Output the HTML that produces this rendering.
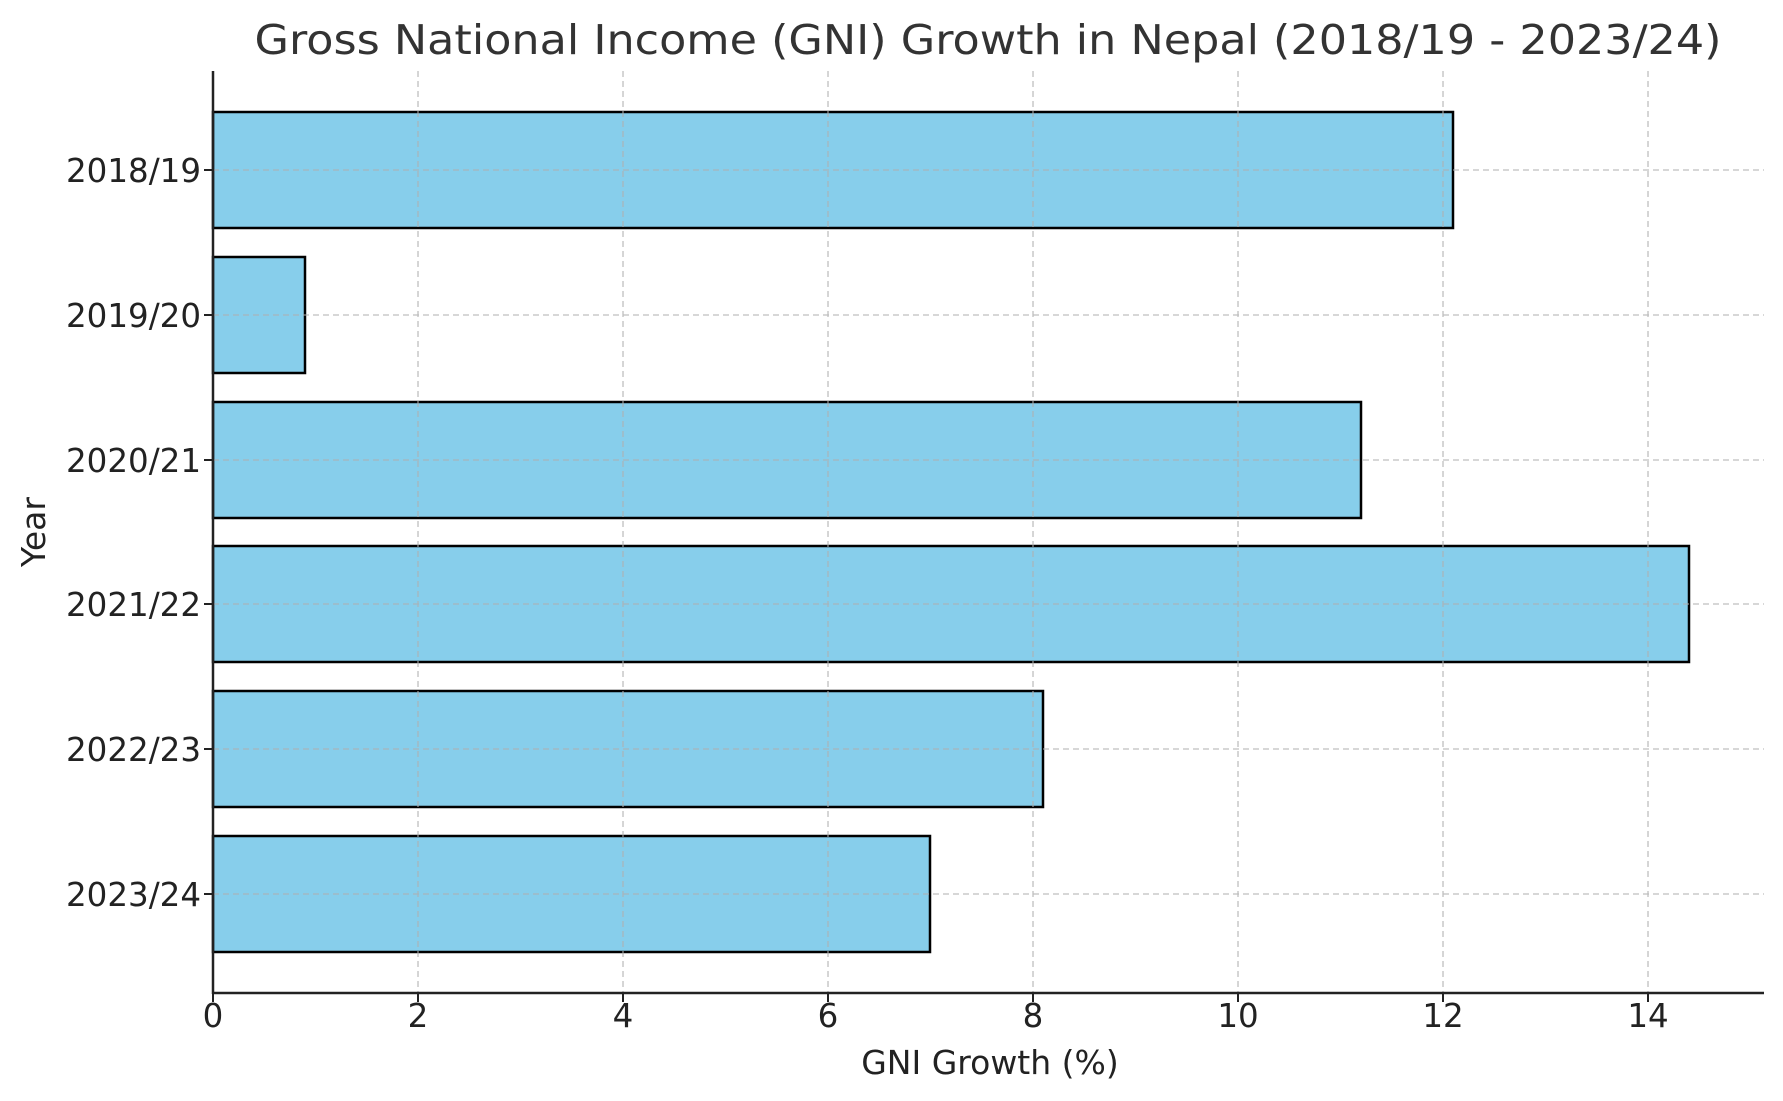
<!DOCTYPE html>
<html><head><meta charset="utf-8"><style>body{margin:0;background:#fff}svg{display:block}</style></head>
<body>
<svg width="1783" height="1101" viewBox="0 0 1783 1101" xmlns="http://www.w3.org/2000/svg" font-family="DejaVu Sans, Liberation Sans, sans-serif">
<rect width="1783" height="1101" fill="#fff"/>
<g fill="#87ceeb" stroke="#000" stroke-width="2.5">
<rect x="213" y="112" width="1240" height="116"/>
<rect x="213" y="257" width="92" height="116"/>
<rect x="213" y="402" width="1148" height="116"/>
<rect x="213" y="546" width="1476" height="116"/>
<rect x="213" y="691" width="830" height="116"/>
<rect x="213" y="836" width="717" height="116"/>
</g>
<g stroke="#b0b0b0" stroke-width="1.3" stroke-dasharray="6,4" opacity="0.8">
<line x1="418" y1="71" x2="418" y2="993"/><line x1="623" y1="71" x2="623" y2="993"/>
<line x1="828" y1="71" x2="828" y2="993"/><line x1="1033" y1="71" x2="1033" y2="993"/>
<line x1="1238" y1="71" x2="1238" y2="993"/><line x1="1443" y1="71" x2="1443" y2="993"/>
<line x1="1648" y1="71" x2="1648" y2="993"/>
<line x1="213" y1="170" x2="1764" y2="170"/><line x1="213" y1="315" x2="1764" y2="315"/>
<line x1="213" y1="460" x2="1764" y2="460"/><line x1="213" y1="604" x2="1764" y2="604"/>
<line x1="213" y1="749" x2="1764" y2="749"/><line x1="213" y1="894" x2="1764" y2="894"/>
</g>
<g stroke="#222" stroke-width="2.5">
<line x1="213" y1="71" x2="213" y2="994"/>
<line x1="212" y1="993" x2="1764" y2="993"/>
</g>
<g stroke="#222" stroke-width="2">
<line x1="213" y1="993" x2="213" y2="1002"/><line x1="418" y1="993" x2="418" y2="1002"/>
<line x1="623" y1="993" x2="623" y2="1002"/><line x1="828" y1="993" x2="828" y2="1002"/>
<line x1="1033" y1="993" x2="1033" y2="1002"/><line x1="1238" y1="993" x2="1238" y2="1002"/>
<line x1="1443" y1="993" x2="1443" y2="1002"/><line x1="1648" y1="993" x2="1648" y2="1002"/>
<line x1="204" y1="170" x2="213" y2="170"/><line x1="204" y1="315" x2="213" y2="315"/>
<line x1="204" y1="460" x2="213" y2="460"/><line x1="204" y1="604" x2="213" y2="604"/>
<line x1="204" y1="749" x2="213" y2="749"/><line x1="204" y1="894" x2="213" y2="894"/>
</g>
<g font-size="32.5" fill="#222" text-anchor="middle">
<text x="213" y="1027">0</text><text x="418" y="1027">2</text><text x="623" y="1027">4</text>
<text x="828" y="1027">6</text><text x="1033" y="1027">8</text><text x="1238" y="1027">10</text>
<text x="1443" y="1027">12</text><text x="1648" y="1027">14</text>
</g>
<g font-size="32.5" fill="#222" text-anchor="end">
<text x="201" y="182">2018/19</text><text x="201" y="327">2019/20</text><text x="201" y="472">2020/21</text>
<text x="201" y="616">2021/22</text><text x="201" y="761">2022/23</text><text x="201" y="906">2023/24</text>
</g>
<text x="990" y="1074" font-size="33" fill="#222" text-anchor="middle">GNI Growth (%)</text>
<text transform="translate(45,532) rotate(-90)" font-size="33" fill="#222" text-anchor="middle">Year</text>
<text x="988" y="54" font-size="41" fill="#333" text-anchor="middle" textLength="1467" lengthAdjust="spacingAndGlyphs">Gross National Income (GNI) Growth in Nepal (2018/19 - 2023/24)</text>
</svg>
</body></html>
